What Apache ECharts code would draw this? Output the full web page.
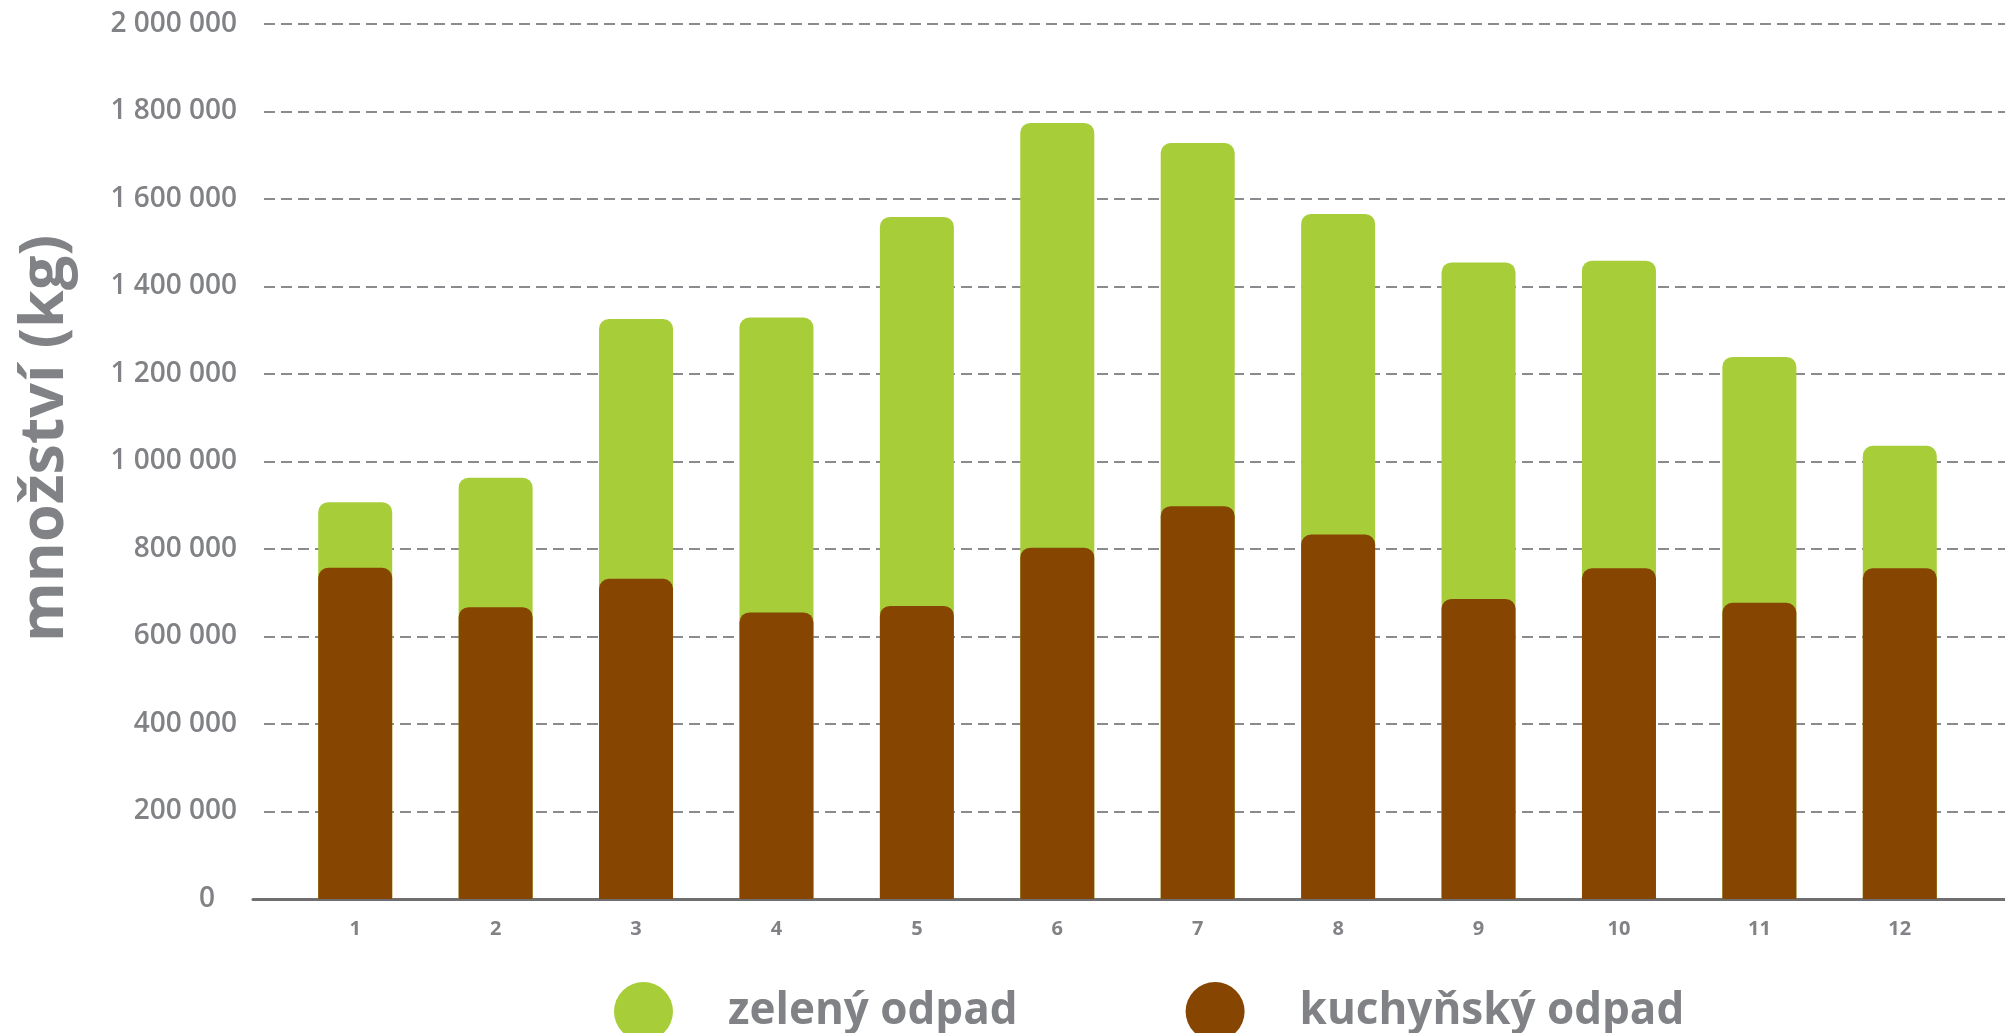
<!DOCTYPE html>
<html>
<head>
<meta charset="utf-8">
<script src="https://cdn.jsdelivr.net/npm/echarts@6/dist/echarts.min.js"></script>
<style>
html,body{margin:0;padding:0;background:#fff;}
#chart{width:2005px;height:1033px;}
</style>
</head>
<body>
<div id="chart"></div>
<script>
// months
var categories = ['1','2','3','4','5','6','7','8','9','10','11','12'];
// kuchyňský odpad (kg)
var kuchynskyOdpad = [757000, 667000, 732000, 655000, 670000, 803000, 898000, 833000, 686000, 756000, 677000, 756000];
// zelený odpad (kg)
var zelenyOdpad = [150000, 296000, 594000, 674000, 889000, 971000, 830000, 733000, 769000, 703000, 562000, 280000];
// y-axis ticks
var yMin = 0, yMax = 2000000, yStep = 200000;
var seriesNames = ['zelený odpad', 'kuchyňský odpad'];

var green = '#A7CE39', brown = '#864501', grey = '#808285';
var fontFam = '"Open Sans", "Noto Sans", sans-serif';

// green bar shows the total height (green portion above kitchen waste)
var greenTop = zelenyOdpad.map(function(v, i){ return v + kuchynskyOdpad[i]; });

function fmt(v){
  if (v === 0) return '{z|0}';
  return String(v).replace(/\B(?=(\d{3})+(?!\d))/g, ' ');
}

var chart = echarts.init(document.getElementById('chart'));
chart.setOption({
  backgroundColor: '#fff',
  animation: false,
  grid: [
    {left: 285, right: 35, top: 24, bottom: 134, outerBoundsMode: 'none'},
    {left: 264, right: 0, top: 24, bottom: 134, outerBoundsMode: 'none'},
    {left: 253, right: 0, top: 24, bottom: 134, outerBoundsMode: 'none'}
  ],
  legend: {
    data: seriesNames,
    left: 609, top: 977,
    icon: 'circle',
    itemWidth: 59, itemHeight: 59,
    itemGap: 168,
    textStyle: {fontSize: 44, fontWeight: 'bold', color: grey, fontFamily: fontFam, padding: [0,0,0,50]}
  },
  xAxis: [
    {
      gridIndex: 0, type: 'category', data: categories,
      axisLine: {show: false}, axisTick: {show: false},
      axisLabel: {fontSize: 20, fontWeight: 'bold', color: grey, fontFamily: fontFam, margin: 20}
    },
    {gridIndex: 1, type: 'value', show: false},
    {
      gridIndex: 2, type: 'value', min: 0, max: 1,
      axisLine: {show: true, onZero: false, lineStyle: {color: '#6f6f72', width: 3}},
      axisTick: {show: false}, axisLabel: {show: false}, splitLine: {show: false}
    }
  ],
  yAxis: [
    {gridIndex: 0, type: 'value', min: yMin, max: yMax, interval: yStep, show: false},
    {
      gridIndex: 1, type: 'value', min: yMin, max: yMax, interval: yStep,
      name: 'množství (kg)', nameLocation: 'middle', nameRotate: 90, nameGap: 188,
      nameTextStyle: {fontSize: 61, fontWeight: 'bold', color: grey, fontFamily: fontFam, padding: [0,0,0,46]},
      axisLine: {show: false}, axisTick: {show: false},
      axisLabel: {
        fontSize: 28, fontWeight: 600, color: grey, fontFamily: fontFam, margin: 27,
        formatter: fmt,
        rich: {z: {fontSize: 28, fontWeight: 600, color: grey, fontFamily: fontFam, padding: [0, 22, 0, 0]}}
      },
      splitLine: {show: true, lineStyle: {color: '#8a8a8f', width: 2, type: [11, 6]}}
    },
    {gridIndex: 2, type: 'value', min: 0, max: 1, show: false}
  ],
  series: [
    {
      name: seriesNames[0], type: 'bar', xAxisIndex: 0, yAxisIndex: 0,
      data: greenTop, barWidth: 74, barGap: '-100%',
      itemStyle: {color: green, borderRadius: [10,10,0,0]}
    },
    {
      name: seriesNames[1], type: 'bar', xAxisIndex: 0, yAxisIndex: 0,
      data: kuchynskyOdpad, barWidth: 74, barGap: '-100%',
      itemStyle: {color: brown, borderRadius: [10,10,0,0]}
    }
  ]
});
</script>
</body>
</html>
